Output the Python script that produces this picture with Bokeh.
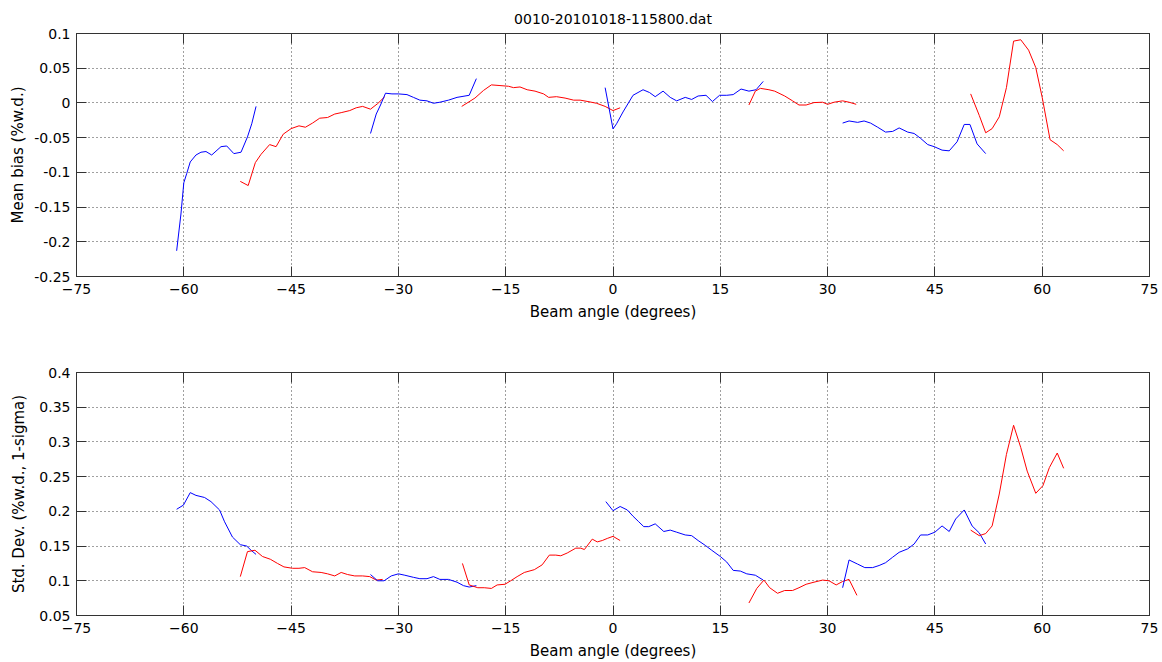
from bokeh.plotting import figure
from bokeh.layouts import column
from bokeh.models import Range1d, FixedTicker, LinearAxis, CustomJSTickFormatter
from bokeh.embed import file_html
from bokeh.resources import INLINE

# ---------------- data ----------------
title_text = "0010-20101018-115800.dat"
x_label = "Beam angle (degrees)"
bias_label = "Mean bias (%w.d.)"
std_label = "Std. Dev. (%w.d., 1-sigma)"

x_ticks = [-75, -60, -45, -30, -15, 0, 15, 30, 45, 60, 75]
bias_ticks = [-0.25, -0.2, -0.15, -0.1, -0.05, 0, 0.05, 0.1]
bias_tick_labels = ["-0.25", "-0.2", "-0.15", "-0.1", "-0.05", "0", "0.05", "0.1"]
std_ticks = [0.05, 0.1, 0.15, 0.2, 0.25, 0.3, 0.35, 0.4]
std_tick_labels = ["0.05", "0.1", "0.15", "0.2", "0.25", "0.3", "0.35", "0.4"]

# Mean bias segments
bias_blue1_x = [-61.0, -60.4, -60.0, -59.6, -59.1, -58.3, -57.6, -56.9, -56.1, -54.8, -54.0, -53.0, -52.0, -51.1, -50.5, -49.9]
bias_blue1_y = [-0.213, -0.160, -0.115, -0.102, -0.085, -0.075, -0.071, -0.070, -0.075, -0.063, -0.062, -0.073, -0.071, -0.049, -0.030, -0.005]
bias_red1_x = [-52.1, -51.0, -50.0, -49.2, -48.0, -47.1, -46.1, -45.0, -43.9, -43.0, -42.0, -41.0, -39.9, -38.9, -38.0, -36.8, -35.9, -35.0, -33.9, -32.9, -31.9]
bias_red1_y = [-0.113, -0.119, -0.086, -0.074, -0.060, -0.063, -0.045, -0.037, -0.033, -0.035, -0.029, -0.022, -0.021, -0.016, -0.014, -0.011, -0.007, -0.005, -0.009, -0.001, 0.009]
bias_blue2_x = [-33.9, -33.1, -32.5, -31.8, -30.9, -30.0, -28.8, -27.9, -27.0, -26.0, -25.1, -24.2, -23.0, -21.8, -20.1, -19.1]
bias_blue2_y = [-0.044, -0.016, -0.003, 0.014, 0.013, 0.013, 0.012, 0.008, 0.004, 0.003, -0.0005, 0.001, 0.004, 0.008, 0.011, 0.035]
bias_red2_x = [-21.15, -19.3, -18.1, -17.0, -15.8, -14.6, -13.9, -13.0, -12.0, -10.9, -9.7, -9.0, -7.9, -6.7, -5.5, -4.6, -3.5, -2.3, -1.1, 0.0, 1.0]
bias_red2_y = [-0.005, 0.007, 0.018, 0.026, 0.025, 0.024, 0.022, 0.023, 0.019, 0.017, 0.013, 0.008, 0.009, 0.007, 0.004, 0.004, 0.002, -0.0005, -0.005, -0.011, -0.007]
bias_blue3_x = [-1.1, 0.0, 0.5, 1.4, 2.8, 4.2, 5.1, 5.9, 7.0, 8.0, 8.9, 10.1, 11.0, 11.9, 13.0, 13.9, 14.9, 15.9, 16.8, 17.9, 19.0, 20.0, 21.0]
bias_blue3_y = [0.022, -0.0375, -0.030, -0.013, 0.011, 0.019, 0.015, 0.009, 0.017, 0.008, 0.003, 0.008, 0.005, 0.010, 0.011, 0.002, 0.011, 0.011, 0.012, 0.020, 0.017, 0.019, 0.031]
bias_red3_x = [19.0, 19.9, 20.6, 21.8, 22.6, 24.0, 25.1, 26.0, 27.0, 28.1, 29.3, 30.0, 30.9, 32.1, 33.0, 34.0]
bias_red3_y = [-0.003, 0.017, 0.021, 0.019, 0.017, 0.010, 0.003, -0.003, -0.003, 0.0005, 0.001, -0.002, 0.001, 0.003, 0.001, -0.002]
bias_blue4_x = [32.1, 33.0, 34.2, 35.1, 36.0, 37.0, 38.1, 39.1, 40.0, 41.2, 42.1, 43.0, 44.0, 44.9, 46.0, 47.0, 48.1, 49.1, 49.9, 50.9, 52.1]
bias_blue4_y = [-0.029, -0.026, -0.028, -0.026, -0.029, -0.035, -0.042, -0.041, -0.036, -0.042, -0.044, -0.051, -0.060, -0.063, -0.068, -0.069, -0.056, -0.031, -0.031, -0.059, -0.073]
bias_red4_x = [50.0, 51.2, 52.1, 53.0, 54.0, 55.0, 56.0, 57.0, 58.1, 59.1, 60.0, 61.1, 62.1, 63.0]
bias_red4_y = [0.013, -0.018, -0.043, -0.037, -0.020, 0.022, 0.089, 0.091, 0.076, 0.051, 0.008, -0.053, -0.060, -0.069]

# Std. dev. segments
std_blue1_x = [-61.0, -60.05, -59.1, -58.3, -57.1, -56.2, -55.0, -54.3, -53.2, -52.1, -51.2, -50.6, -49.9]
std_blue1_y = [0.203, 0.209, 0.227, 0.223, 0.220, 0.214, 0.202, 0.185, 0.163, 0.152, 0.150, 0.144, 0.138]
std_red1_x = [-52.1, -51.1, -50.05, -49.0, -47.9, -46.9, -46.0, -44.8, -43.9, -43.1, -42.0, -40.8, -39.9, -38.9, -38.0, -37.1, -36.1, -35.0, -34.0, -33.1, -32.2]
std_red1_y = [0.106, 0.142, 0.144, 0.135, 0.131, 0.125, 0.120, 0.118, 0.118, 0.119, 0.113, 0.112, 0.110, 0.107, 0.112, 0.109, 0.107, 0.107, 0.106, 0.101, 0.102]
std_blue2_x = [-33.9, -32.9, -32.0, -31.0, -30.0, -29.1, -27.9, -27.0, -26.0, -25.1, -24.2, -23.0, -21.8, -20.9, -20.1, -19.1]
std_blue2_y = [0.109, 0.100, 0.100, 0.107, 0.110, 0.108, 0.105, 0.103, 0.103, 0.106, 0.102, 0.102, 0.098, 0.093, 0.091, 0.093]
std_red2_x = [-21.05, -20.1, -18.9, -18.0, -17.0, -16.2, -15.1, -14.3, -13.4, -12.4, -11.0, -9.9, -8.9, -8.0, -7.3, -6.4, -5.2, -4.5, -4.0, -2.9, -2.2, -1.5, -0.8, 0.0, 1.0]
std_red2_y = [0.125, 0.094, 0.090, 0.090, 0.089, 0.094, 0.095, 0.100, 0.106, 0.112, 0.116, 0.123, 0.137, 0.137, 0.136, 0.140, 0.147, 0.147, 0.145, 0.160, 0.156, 0.158, 0.161, 0.164, 0.158]
std_blue3_x = [-1.0, 0.0, 1.0, 2.0, 2.8, 3.6, 4.3, 5.0, 5.9, 7.1, 8.0, 8.9, 10.1, 11.0, 11.9, 12.9, 13.8, 15.0, 15.9, 16.8, 17.8, 18.7, 19.9, 21.0]
std_blue3_y = [0.214, 0.201, 0.207, 0.202, 0.193, 0.185, 0.178, 0.178, 0.182, 0.171, 0.173, 0.170, 0.166, 0.165, 0.158, 0.151, 0.144, 0.135, 0.127, 0.115, 0.114, 0.110, 0.108, 0.101]
std_red3_x = [19.0, 20.1, 21.1, 21.9, 23.0, 24.0, 25.1, 26.0, 27.0, 28.1, 29.3, 30.2, 31.2, 32.1, 33.0, 34.1]
std_red3_y = [0.068, 0.089, 0.101, 0.090, 0.082, 0.086, 0.086, 0.090, 0.095, 0.098, 0.101, 0.100, 0.094, 0.099, 0.102, 0.079]
std_blue4_x = [32.1, 33.0, 34.2, 35.2, 36.3, 37.2, 38.1, 39.1, 40.0, 41.2, 42.1, 43.0, 44.0, 45.0, 46.0, 47.0, 47.9, 49.1, 50.2, 51.2, 52.1]
std_blue4_y = [0.090, 0.130, 0.124, 0.119, 0.119, 0.122, 0.126, 0.134, 0.141, 0.146, 0.153, 0.166, 0.166, 0.170, 0.179, 0.171, 0.189, 0.202, 0.179, 0.169, 0.153]
std_red4_x = [50.0, 51.2, 52.1, 53.0, 54.0, 55.0, 56.0, 57.0, 57.9, 59.1, 60.1, 61.0, 62.1, 63.0]
std_red4_y = [0.173, 0.165, 0.168, 0.179, 0.225, 0.282, 0.324, 0.292, 0.258, 0.226, 0.237, 0.263, 0.284, 0.262]

BLUE = "#0000ff"
RED = "#ff0000"

bias_segments = [
    (bias_blue1_x, bias_blue1_y, BLUE), (bias_red1_x, bias_red1_y, RED),
    (bias_blue2_x, bias_blue2_y, BLUE), (bias_red2_x, bias_red2_y, RED),
    (bias_blue3_x, bias_blue3_y, BLUE), (bias_red3_x, bias_red3_y, RED),
    (bias_blue4_x, bias_blue4_y, BLUE), (bias_red4_x, bias_red4_y, RED),
]
std_segments = [
    (std_blue1_x, std_blue1_y, BLUE), (std_red1_x, std_red1_y, RED),
    (std_blue2_x, std_blue2_y, BLUE), (std_red2_x, std_red2_y, RED),
    (std_blue3_x, std_blue3_y, BLUE), (std_red3_x, std_red3_y, RED),
    (std_blue4_x, std_blue4_y, BLUE), (std_red4_x, std_red4_y, RED),
]

FONT = "DejaVu Sans"
AXC = "#333333"


def style_axis(ax):
    ax.major_tick_in = 10
    ax.major_tick_out = 0
    ax.minor_tick_line_color = None
    ax.axis_line_color = AXC
    ax.major_tick_line_color = AXC
    ax.major_label_text_font = FONT
    ax.major_label_text_font_size = "14px"
    ax.major_label_text_color = "#000000"
    ax.axis_label_text_font = FONT
    ax.axis_label_text_font_size = "15px"
    ax.axis_label_text_font_style = "normal"
    ax.axis_label_text_color = "#000000"


def make_fig(segments, yr, yticks, ylabels, ylabel, title, top, bottom, ylab_standoff):
    p = figure(width=1162, height=331, x_range=Range1d(-75, 75), y_range=Range1d(*yr),
               output_backend="svg", toolbar_location=None, title=title,
               min_border_left=76, min_border_right=13, min_border_top=top, min_border_bottom=bottom)
    p.background_fill_color = "white"
    p.border_fill_color = "white"
    p.outline_line_color = AXC
    p.outline_line_width = 1
    if title:
        p.title.text_font = FONT
        p.title.text_font_size = "14px"
        p.title.text_font_style = "normal"
        p.title.text_color = "#000000"
        p.title.align = "center"
        p.title.vertical_align = "top"
        p.title.standoff = 9
    for xs, ys, c in segments:
        p.line(xs, ys, line_color=c, line_width=1)

    p.xaxis.ticker = FixedTicker(ticks=x_ticks)
    p.yaxis.ticker = FixedTicker(ticks=yticks)
    p.yaxis.major_label_overrides = {t: l for t, l in zip(yticks, ylabels)}
    p.xaxis.axis_label = x_label
    p.yaxis.axis_label = ylabel
    for ax in p.xaxis + p.yaxis:
        style_axis(ax)
    p.xaxis.major_label_standoff = 7
    p.xaxis.axis_label_standoff = 6
    p.yaxis.major_label_standoff = 6
    p.yaxis.axis_label_standoff = ylab_standoff

    right = LinearAxis(ticker=FixedTicker(ticks=yticks), formatter=CustomJSTickFormatter(code="return ''"),
                       major_label_standoff=0)
    style_axis(right)
    p.add_layout(right, "right")
    above = LinearAxis(ticker=FixedTicker(ticks=x_ticks), formatter=CustomJSTickFormatter(code="return ''"),
                       major_label_standoff=0)
    style_axis(above)
    p.add_layout(above, "above")

    p.xgrid.ticker = FixedTicker(ticks=x_ticks)
    p.ygrid.ticker = FixedTicker(ticks=yticks)
    for g in (p.xgrid, p.ygrid):
        g.grid_line_color = "#404040"
        g.grid_line_dash = "1 3"
        g.grid_line_width = 1
    return p


p1 = make_fig(bias_segments, (-0.25, 0.1), bias_ticks, bias_tick_labels, bias_label, title_text, 33, 55, 4)
p2 = make_fig(std_segments, (0.05, 0.4), std_ticks, std_tick_labels, std_label, None, 41, 47, 8)

layout = column(p1, p2, spacing=0)
open("out.html", "w").write(file_html(layout, INLINE))
